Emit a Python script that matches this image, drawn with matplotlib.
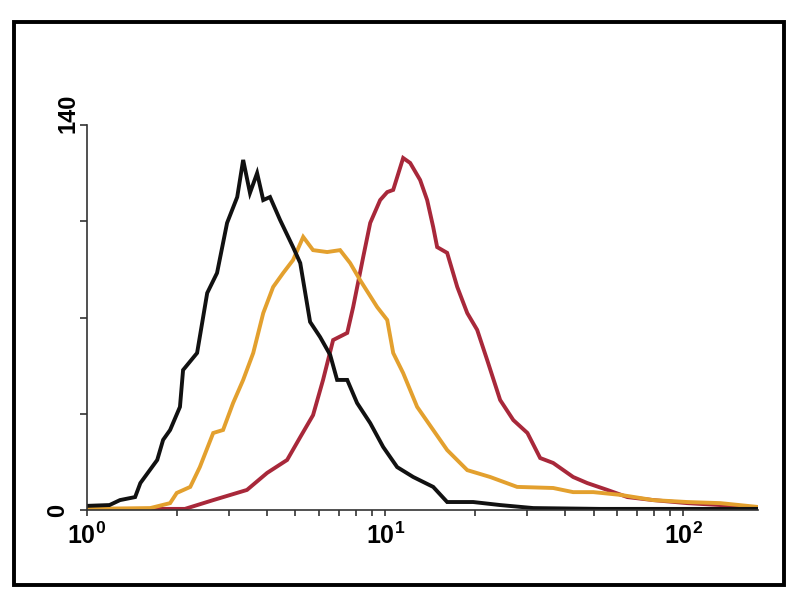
import matplotlib
matplotlib.use("Agg")
import matplotlib.pyplot as plt
from matplotlib.patches import Rectangle
from matplotlib.ticker import LogLocator, NullFormatter

plt.rcParams['font.family'] = ['Liberation Sans', 'DejaVu Sans']
plt.rcParams['mathtext.fontset'] = 'custom'
plt.rcParams['mathtext.rm'] = 'Liberation Sans:bold'
plt.rcParams['mathtext.bf'] = 'Liberation Sans:bold'

# histogram traces (fluorescence, counts)
black_x = [1.00, 1.19, 1.29, 1.45, 1.51, 1.72, 1.80, 1.90, 2.05, 2.10, 2.34, 2.53, 2.73, 2.95,
           3.19, 3.34, 3.52, 3.72, 3.90, 4.11, 4.44, 4.91, 5.19, 5.60, 6.05, 6.54, 6.90, 7.46,
           8.05, 8.91, 9.85, 10.97, 12.42, 14.49, 16.14, 19.73, 24.3, 31.4, 52.7, 114, 178]
black_y = [1.5, 1.8, 3.6, 4.7, 9.8, 18.2, 25.5, 29.1, 37.5, 50.9, 57.1, 78.9, 86.2, 104.4,
           113.8, 127.3, 115.3, 122.5, 112.7, 113.8, 105.5, 95.6, 89.8, 68.4, 62.9, 56.4, 47.3, 47.3,
           38.9, 31.6, 22.9, 15.6, 12.0, 8.4, 2.9, 2.9, 1.8, 0.7, 0.4, 0.4, 0.4]

orange_x = [1.00, 1.63, 1.90, 2.00, 2.22, 2.39, 2.65, 2.86, 3.09, 3.34, 3.61, 3.90, 4.21, 4.55,
            4.91, 5.31, 5.73, 6.39, 7.06, 7.63, 8.24, 9.40, 10.16, 10.64, 11.49, 12.80, 14.49,
            16.14, 18.85, 22.5, 27.7, 36.6, 42.7, 49.9, 61.5, 79.3, 103, 133, 178]
orange_y = [0.4, 0.7, 2.5, 6.2, 8.4, 15.6, 28.0, 29.1, 38.9, 47.3, 57.1, 71.6, 81.1, 86.2,
            90.9, 99.3, 94.5, 93.8, 94.5, 89.8, 83.6, 73.8, 69.1, 57.1, 49.8, 37.5, 29.1,
            21.8, 14.5, 12.0, 8.4, 8.0, 6.5, 6.5, 5.5, 3.6, 2.9, 2.5, 1.1]

red_x = [1.00, 2.13, 2.65, 3.44, 4.02, 4.69, 5.19, 5.73, 6.19, 6.69, 7.46, 7.81, 8.44, 8.91,
         9.62, 10.16, 10.64, 11.49, 12.13, 13.10, 13.83, 14.49, 14.94, 16.14, 17.45, 18.85,
         20.35, 21.99, 24.3, 26.9, 30.0, 33.1, 36.6, 42.7, 47.6, 55.6, 64.9, 79.3, 103, 133, 178]
red_y = [0.4, 0.4, 3.6, 7.3, 13.5, 18.2, 26.5, 34.5, 47.3, 61.8, 64.4, 73.8, 92.0, 104.4,
         112.7, 115.6, 116.4, 128.0, 126.2, 120.0, 112.7, 102.9, 95.6, 93.5, 81.1, 71.6,
         65.5, 54.5, 40.0, 32.7, 28.0, 18.9, 17.1, 12.0, 9.8, 7.3, 4.7, 3.6, 2.5, 1.8, 0.7]

fig = plt.figure(figsize=(8, 6), dpi=100)
ax = fig.add_axes([87/800, 90/600, 671/800, 385/600])

ax.plot(red_x, red_y, color='#a8283a', lw=2.8, solid_joinstyle='miter')
ax.plot(orange_x, orange_y, color='#e3a02e', lw=2.8, solid_joinstyle='miter')
ax.plot(black_x, black_y, color='#111111', lw=2.8, solid_joinstyle='miter')

ax.set_xscale('log')
ax.set_xlim(1, 178)
ax.set_ylim(0, 140)

for s in ['top', 'right']:
    ax.spines[s].set_visible(False)
for s in ['left', 'bottom']:
    ax.spines[s].set_color('#333333')
    ax.spines[s].set_linewidth(1.2)

ax.xaxis.set_minor_locator(LogLocator(base=10, subs=range(2, 10), numticks=20))
ax.xaxis.set_minor_formatter(NullFormatter())
ax.set_xticks([1, 10, 100])
ax.set_xticklabels([r'$\mathbf{10^{0}}$', r'$\mathbf{10^{1}}$', r'$\mathbf{10^{2}}$'])
ax.tick_params(axis='x', which='both', direction='out', length=4, width=1.2,
               color='#333333', labelsize=18, pad=5)

ax.set_yticks([0, 35, 70, 105, 140])
ax.set_yticklabels([])
ax.tick_params(axis='y', direction='out', length=5, width=1.2, color='#333333')

# rotated y labels
ax.annotate('0', xy=(0, 0), xycoords=('axes fraction', 'data'), xytext=(-21, 0),
            textcoords='offset points', rotation=90, ha='center', va='center',
            fontsize=17, fontweight='bold')
ax.annotate('140', xy=(0, 140), xycoords=('axes fraction', 'data'), xytext=(-14, -6),
            textcoords='offset points', rotation=90, ha='center', va='bottom',
            fontsize=17, fontweight='bold')

# outer frame
fig.patches.append(Rectangle((14/800, 15/600), 770/800, 563/600, transform=fig.transFigure,
                             fill=False, edgecolor='black', lw=2.8))

fig.savefig('out.png', dpi=100)
